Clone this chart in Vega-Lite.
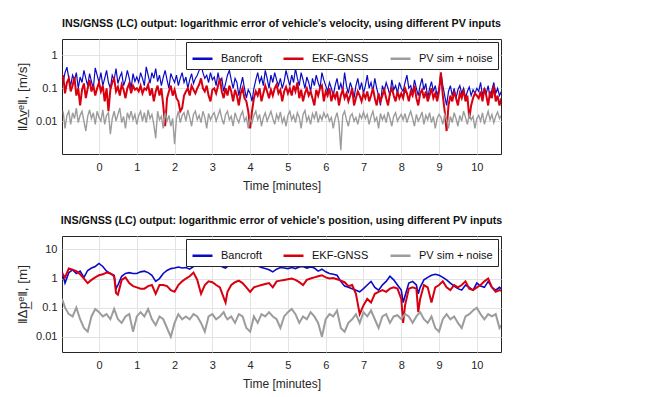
{
"$schema": "https://vega.github.io/schema/vega-lite/v6.json",
"padding": {"left": 15, "top": 17, "right": 5, "bottom": 2},
"spacing": 22,
"config": {
  "font": "Liberation Sans",
  "view": {"stroke": "#262626", "strokeWidth": 1},
  "axis": {"labelFontSize": 11, "titleFontSize": 12, "titleFontWeight": "normal", "labelColor": "#262626", "titleColor": "#262626", "domain": false, "ticks": false, "gridColor": "#e3e3e3", "gridWidth": 1, "labelPadding": 5},
  "legend": {"orient": "top-right", "direction": "horizontal", "fillColor": "white", "strokeColor": "#262626", "padding": 5, "labelFontSize": 11, "labelColor": "#111", "symbolType": "stroke", "symbolSize": 400, "symbolStrokeWidth": 2.5, "columnPadding": 16, "labelOffset": 7, "offset": 3, "labelLimit": 200, "title": null},
  "title": {"fontSize": 10.7, "fontWeight": "bold", "anchor": "middle", "offset": 9, "color": "#111"}
},
"resolve": {"scale": {"color": "independent"}, "legend": {"color": "independent"}},
"datasets": {
"vel": [
{"t":-0.95,"B":0.15,"E":0.25,"P":0.02},{"t":-0.9,"B":0.3,"E":0.07,"P":0.006},{"t":-0.85,"B":0.44,"E":0.15,"P":0.015},{"t":-0.8,"B":0.2,"E":0.2,"P":0.02},{"t":-0.75,"B":0.12,"E":0.08,"P":0.008},{"t":-0.7,"B":0.25,"E":0.12,"P":0.018},{"t":-0.65,"B":0.18,"E":0.22,"P":0.012},{"t":-0.6,"B":0.3,"E":0.06,"P":0.025},{"t":-0.55,"B":0.1,"E":0.1,"P":0.009},{"t":-0.5,"B":0.22,"E":0.03,"P":0.015},{"t":-0.45,"B":0.15,"E":0.09,"P":0.02},{"t":-0.4,"B":0.35,"E":0.14,"P":0.01},{"t":-0.35,"B":0.2,"E":0.05,"P":0.005},{"t":-0.3,"B":0.12,"E":0.1,"P":0.014},{"t":-0.25,"B":0.28,"E":0.18,"P":0.022},{"t":-0.2,"B":0.16,"E":0.08,"P":0.012},{"t":-0.15,"B":0.1,"E":0.12,"P":0.018},{"t":-0.1,"B":0.42,"E":0.06,"P":0.008},{"t":-0.05,"B":0.25,"E":0.1,"P":0.02},{"t":0.0,"B":0.15,"E":0.15,"P":0.013},
{"t":0.05,"B":0.3,"E":0.08,"P":0.01},{"t":0.1,"B":0.12,"E":0.12,"P":0.022},{"t":0.15,"B":0.2,"E":0.04,"P":0.008},{"t":0.2,"B":0.35,"E":0.1,"P":0.015},{"t":0.25,"B":0.15,"E":0.02,"P":0.018},{"t":0.3,"B":0.1,"E":0.09,"P":0.004},{"t":0.35,"B":0.25,"E":0.15,"P":0.012},{"t":0.4,"B":0.18,"E":0.2,"P":0.02},{"t":0.45,"B":0.4,"E":0.08,"P":0.01},{"t":0.5,"B":0.14,"E":0.11,"P":0.016},{"t":0.55,"B":0.22,"E":0.06,"P":0.025},{"t":0.6,"B":0.3,"E":0.13,"P":0.009},{"t":0.65,"B":0.12,"E":0.09,"P":0.014},{"t":0.7,"B":0.18,"E":0.05,"P":0.006},{"t":0.75,"B":0.35,"E":0.1,"P":0.018},{"t":0.8,"B":0.2,"E":0.14,"P":0.012},{"t":0.85,"B":0.1,"E":0.07,"P":0.02},{"t":0.9,"B":0.28,"E":0.12,"P":0.011},{"t":0.95,"B":0.16,"E":0.09,"P":0.016},{"t":1.0,"B":0.22,"E":0.1,"P":0.008},
{"t":1.05,"B":0.15,"E":0.08,"P":0.015},{"t":1.1,"B":0.3,"E":0.12,"P":0.02},{"t":1.15,"B":0.2,"E":0.07,"P":0.01},{"t":1.2,"B":0.12,"E":0.1,"P":0.018},{"t":1.25,"B":0.45,"E":0.09,"P":0.009},{"t":1.3,"B":0.25,"E":0.13,"P":0.022},{"t":1.35,"B":0.14,"E":0.06,"P":0.012},{"t":1.4,"B":0.3,"E":0.1,"P":0.016},{"t":1.45,"B":0.2,"E":0.04,"P":0.008},{"t":1.5,"B":0.4,"E":0.08,"P":0.003},{"t":1.55,"B":0.16,"E":0.12,"P":0.02},{"t":1.6,"B":0.25,"E":0.06,"P":0.011},{"t":1.65,"B":0.12,"E":0.1,"P":0.014},{"t":1.7,"B":0.22,"E":0.03,"P":0.006},{"t":1.75,"B":0.35,"E":0.007,"P":0.018},{"t":1.8,"B":0.18,"E":0.05,"P":0.01},{"t":1.85,"B":0.1,"E":0.08,"P":0.015},{"t":1.9,"B":0.28,"E":0.12,"P":0.007},{"t":1.95,"B":0.2,"E":0.06,"P":0.012},{"t":2.0,"B":0.15,"E":0.09,"P":0.002},
{"t":2.05,"B":0.25,"E":0.05,"P":0.012},{"t":2.1,"B":0.12,"E":0.04,"P":0.02},{"t":2.15,"B":0.2,"E":0.02,"P":0.009},{"t":2.2,"B":0.3,"E":0.025,"P":0.015},{"t":2.25,"B":0.15,"E":0.06,"P":0.018},{"t":2.3,"B":0.22,"E":0.08,"P":0.01},{"t":2.35,"B":0.1,"E":0.1,"P":0.022},{"t":2.4,"B":0.18,"E":0.06,"P":0.013},{"t":2.45,"B":0.28,"E":0.12,"P":0.007},{"t":2.5,"B":0.14,"E":0.09,"P":0.016},{"t":2.55,"B":0.2,"E":0.07,"P":0.02},{"t":2.6,"B":0.25,"E":0.1,"P":0.011},{"t":2.65,"B":0.35,"E":0.13,"P":0.015},{"t":2.7,"B":0.52,"E":0.2,"P":0.009},{"t":2.75,"B":0.3,"E":0.1,"P":0.02},{"t":2.8,"B":0.2,"E":0.08,"P":0.013},{"t":2.85,"B":0.25,"E":0.12,"P":0.006},{"t":2.9,"B":0.15,"E":0.06,"P":0.017},{"t":2.95,"B":0.3,"E":0.04,"P":0.011},{"t":3.0,"B":0.18,"E":0.09,"P":0.015},
{"t":3.05,"B":0.22,"E":0.1,"P":0.018},{"t":3.1,"B":0.12,"E":0.07,"P":0.01},{"t":3.15,"B":0.3,"E":0.12,"P":0.015},{"t":3.2,"B":0.15,"E":0.2,"P":0.022},{"t":3.25,"B":0.2,"E":0.08,"P":0.012},{"t":3.3,"B":0.08,"E":0.05,"P":0.008},{"t":3.35,"B":0.14,"E":0.1,"P":0.016},{"t":3.4,"B":0.25,"E":0.06,"P":0.02},{"t":3.45,"B":0.35,"E":0.12,"P":0.011},{"t":3.5,"B":0.18,"E":0.08,"P":0.014},{"t":3.55,"B":0.1,"E":0.04,"P":0.007},{"t":3.6,"B":0.2,"E":0.09,"P":0.018},{"t":3.65,"B":0.15,"E":0.06,"P":0.012},{"t":3.7,"B":0.06,"E":0.03,"P":0.009},{"t":3.75,"B":0.12,"E":0.07,"P":0.015},{"t":3.8,"B":0.22,"E":0.1,"P":0.02},{"t":3.85,"B":0.1,"E":0.05,"P":0.01},{"t":3.9,"B":0.05,"E":0.04,"P":0.013},{"t":3.95,"B":0.09,"E":0.02,"P":0.006},{"t":4.0,"B":0.07,"E":0.006,"P":0.012},
{"t":4.05,"B":0.04,"E":0.02,"P":0.009},{"t":4.1,"B":0.1,"E":0.05,"P":0.015},{"t":4.15,"B":0.18,"E":0.08,"P":0.02},{"t":4.2,"B":0.3,"E":0.06,"P":0.011},{"t":4.25,"B":0.15,"E":0.1,"P":0.016},{"t":4.3,"B":0.22,"E":0.04,"P":0.007},{"t":4.35,"B":0.12,"E":0.07,"P":0.013},{"t":4.4,"B":0.35,"E":0.12,"P":0.018},{"t":4.45,"B":0.2,"E":0.08,"P":0.01},{"t":4.5,"B":0.1,"E":0.05,"P":0.014},{"t":4.55,"B":0.25,"E":0.09,"P":0.02},{"t":4.6,"B":0.15,"E":0.06,"P":0.012},{"t":4.65,"B":0.3,"E":0.1,"P":0.008},{"t":4.7,"B":0.18,"E":0.13,"P":0.016},{"t":4.75,"B":0.12,"E":0.07,"P":0.011},{"t":4.8,"B":0.2,"E":0.09,"P":0.019},{"t":4.85,"B":0.1,"E":0.04,"P":0.009},{"t":4.9,"B":0.16,"E":0.08,"P":0.013},{"t":4.95,"B":0.35,"E":0.11,"P":0.007},{"t":5.0,"B":0.2,"E":0.07,"P":0.015},
{"t":5.05,"B":0.12,"E":0.1,"P":0.02},{"t":5.1,"B":0.25,"E":0.06,"P":0.011},{"t":5.15,"B":0.15,"E":0.12,"P":0.015},{"t":5.2,"B":0.4,"E":0.08,"P":0.009},{"t":5.25,"B":0.2,"E":0.15,"P":0.018},{"t":5.3,"B":0.12,"E":0.05,"P":0.013},{"t":5.35,"B":0.3,"E":0.09,"P":0.006},{"t":5.4,"B":0.18,"E":0.04,"P":0.016},{"t":5.45,"B":0.1,"E":0.07,"P":0.021},{"t":5.5,"B":0.22,"E":0.1,"P":0.01},{"t":5.55,"B":0.15,"E":0.06,"P":0.014},{"t":5.6,"B":0.08,"E":0.08,"P":0.008},{"t":5.65,"B":0.2,"E":0.05,"P":0.017},{"t":5.7,"B":0.12,"E":0.03,"P":0.012},{"t":5.75,"B":0.25,"E":0.09,"P":0.02},{"t":5.8,"B":0.15,"E":0.06,"P":0.009},{"t":5.85,"B":0.1,"E":0.1,"P":0.015},{"t":5.9,"B":0.3,"E":0.12,"P":0.011},{"t":5.95,"B":0.18,"E":0.04,"P":0.018},{"t":6.0,"B":0.12,"E":0.08,"P":0.013},
{"t":6.05,"B":0.08,"E":0.06,"P":0.016},{"t":6.1,"B":0.15,"E":0.1,"P":0.01},{"t":6.15,"B":0.1,"E":0.04,"P":0.013},{"t":6.2,"B":0.06,"E":0.07,"P":0.006},{"t":6.25,"B":0.12,"E":0.05,"P":0.012},{"t":6.3,"B":0.2,"E":0.08,"P":0.018},{"t":6.35,"B":0.09,"E":0.03,"P":0.009},{"t":6.4,"B":0.14,"E":0.06,"P":0.0013},{"t":6.45,"B":0.08,"E":0.09,"P":0.015},{"t":6.5,"B":0.3,"E":0.05,"P":0.02},{"t":6.55,"B":0.12,"E":0.07,"P":0.011},{"t":6.6,"B":0.07,"E":0.04,"P":0.007},{"t":6.65,"B":0.15,"E":0.06,"P":0.014},{"t":6.7,"B":0.1,"E":0.1,"P":0.017},{"t":6.75,"B":0.05,"E":0.03,"P":0.01},{"t":6.8,"B":0.12,"E":0.05,"P":0.013},{"t":6.85,"B":0.2,"E":0.08,"P":0.008},{"t":6.9,"B":0.09,"E":0.06,"P":0.016},{"t":6.95,"B":0.15,"E":0.04,"P":0.012},{"t":7.0,"B":0.07,"E":0.07,"P":0.019},
{"t":7.05,"B":0.12,"E":0.05,"P":0.012},{"t":7.1,"B":0.25,"E":0.08,"P":0.016},{"t":7.15,"B":0.1,"E":0.04,"P":0.008},{"t":7.2,"B":0.15,"E":0.06,"P":0.014},{"t":7.25,"B":0.08,"E":0.1,"P":0.02},{"t":7.3,"B":0.2,"E":0.05,"P":0.01},{"t":7.35,"B":0.1,"E":0.03,"P":0.013},{"t":7.4,"B":0.06,"E":0.07,"P":0.006},{"t":7.45,"B":0.03,"E":0.04,"P":0.017},{"t":7.5,"B":0.12,"E":0.06,"P":0.011},{"t":7.55,"B":0.08,"E":0.09,"P":0.015},{"t":7.6,"B":0.15,"E":0.05,"P":0.009},{"t":7.65,"B":0.1,"E":0.03,"P":0.019},{"t":7.7,"B":0.06,"E":0.07,"P":0.012},{"t":7.75,"B":0.18,"E":0.1,"P":0.007},{"t":7.8,"B":0.09,"E":0.06,"P":0.014},{"t":7.85,"B":0.12,"E":0.04,"P":0.018},{"t":7.9,"B":0.07,"E":0.08,"P":0.01},{"t":7.95,"B":0.15,"E":0.05,"P":0.013},{"t":8.0,"B":0.1,"E":0.07,"P":0.016},
{"t":8.05,"B":0.08,"E":0.05,"P":0.011},{"t":8.1,"B":0.15,"E":0.1,"P":0.017},{"t":8.15,"B":0.25,"E":0.07,"P":0.009},{"t":8.2,"B":0.1,"E":0.04,"P":0.014},{"t":8.25,"B":0.12,"E":0.08,"P":0.02},{"t":8.3,"B":0.07,"E":0.06,"P":0.012},{"t":8.35,"B":0.18,"E":0.12,"P":0.007},{"t":8.4,"B":0.1,"E":0.05,"P":0.016},{"t":8.45,"B":0.06,"E":0.03,"P":0.01},{"t":8.5,"B":0.12,"E":0.07,"P":0.013},{"t":8.55,"B":0.2,"E":0.09,"P":0.019},{"t":8.6,"B":0.09,"E":0.05,"P":0.008},{"t":8.65,"B":0.14,"E":0.08,"P":0.015},{"t":8.7,"B":0.05,"E":0.04,"P":0.011},{"t":8.75,"B":0.1,"E":0.06,"P":0.018},{"t":8.8,"B":0.16,"E":0.1,"P":0.009},{"t":8.85,"B":0.08,"E":0.05,"P":0.014},{"t":8.9,"B":0.12,"E":0.07,"P":0.006},{"t":8.95,"B":0.06,"E":0.04,"P":0.012},{"t":9.0,"B":0.1,"E":0.08,"P":0.016},
{"t":9.05,"B":0.3,"E":0.3,"P":0.013},{"t":9.1,"B":0.12,"E":0.06,"P":0.008},{"t":9.15,"B":0.06,"E":0.02,"P":0.016},{"t":9.2,"B":0.03,"E":0.005,"P":0.011},{"t":9.25,"B":0.08,"E":0.03,"P":0.006},{"t":9.3,"B":0.12,"E":0.06,"P":0.014},{"t":9.35,"B":0.06,"E":0.04,"P":0.009},{"t":9.4,"B":0.1,"E":0.08,"P":0.018},{"t":9.45,"B":0.05,"E":0.05,"P":0.012},{"t":9.5,"B":0.09,"E":0.03,"P":0.007},{"t":9.55,"B":0.12,"E":0.07,"P":0.015},{"t":9.6,"B":0.07,"E":0.05,"P":0.01},{"t":9.65,"B":0.1,"E":0.09,"P":0.02},{"t":9.7,"B":0.05,"E":0.04,"P":0.013},{"t":9.75,"B":0.08,"E":0.06,"P":0.008},{"t":9.8,"B":0.11,"E":0.012,"P":0.016},{"t":9.85,"B":0.06,"E":0.03,"P":0.011},{"t":9.9,"B":0.09,"E":0.05,"P":0.014},{"t":9.95,"B":0.07,"E":0.07,"P":0.006},{"t":10.0,"B":0.1,"E":0.06,"P":0.012},
{"t":10.05,"B":0.08,"E":0.05,"P":0.015},{"t":10.1,"B":0.15,"E":0.08,"P":0.01},{"t":10.15,"B":0.06,"E":0.04,"P":0.018},{"t":10.2,"B":0.1,"E":0.1,"P":0.008},{"t":10.25,"B":0.07,"E":0.06,"P":0.013},{"t":10.3,"B":0.12,"E":0.03,"P":0.02},{"t":10.35,"B":0.05,"E":0.08,"P":0.011},{"t":10.4,"B":0.09,"E":0.05,"P":0.016},{"t":10.45,"B":0.15,"E":0.12,"P":0.009},{"t":10.5,"B":0.07,"E":0.04,"P":0.014},{"t":10.55,"B":0.1,"E":0.06,"P":0.019},{"t":10.6,"B":0.06,"E":0.03,"P":0.012},{"t":10.65,"B":0.08,"E":0.05,"P":0.015}
],
"pos": [
{"t":-0.98,"B":1.8,"E":1.5,"P":0.2},{"t":-0.9,"B":0.7,"E":1.1,"P":0.1},{"t":-0.8,"B":1.6,"E":2.2,"P":0.06},{"t":-0.7,"B":2.0,"E":2.0,"P":0.05},{"t":-0.6,"B":1.5,"E":1.8,"P":0.1},{"t":-0.5,"B":1.8,"E":1.4,"P":0.04},{"t":-0.4,"B":1.1,"E":1.0,"P":0.02},{"t":-0.3,"B":1.9,"E":0.7,"P":0.015},{"t":-0.2,"B":2.3,"E":0.9,"P":0.05},{"t":-0.1,"B":2.6,"E":1.1,"P":0.09},
{"t":0.0,"B":3.3,"E":1.3,"P":0.07},{"t":0.1,"B":2.6,"E":1.4,"P":0.05},{"t":0.2,"B":1.8,"E":1.6,"P":0.06},{"t":0.3,"B":1.5,"E":1.5,"P":0.04},{"t":0.4,"B":1.3,"E":1.2,"P":0.09},{"t":0.45,"B":0.45,"E":0.32,"P":0.06},{"t":0.5,"B":0.6,"E":0.28,"P":0.04},{"t":0.6,"B":1.2,"E":0.9,"P":0.03},{"t":0.7,"B":1.5,"E":1.1,"P":0.05},{"t":0.8,"B":1.6,"E":0.7,"P":0.06},{"t":0.9,"B":1.5,"E":0.55,"P":0.015},
{"t":1.0,"B":1.5,"E":0.5,"P":0.05},{"t":1.1,"B":1.7,"E":0.45,"P":0.07},{"t":1.2,"B":1.8,"E":0.45,"P":0.05},{"t":1.3,"B":1.6,"E":0.55,"P":0.09},{"t":1.4,"B":1.3,"E":0.6,"P":0.04},{"t":1.5,"B":0.8,"E":0.3,"P":0.025},{"t":1.6,"B":1.0,"E":0.6,"P":0.05},{"t":1.7,"B":1.5,"E":0.6,"P":0.04},{"t":1.8,"B":1.9,"E":0.55,"P":0.02},{"t":1.9,"B":2.2,"E":0.4,"P":0.01},
{"t":2.0,"B":2.3,"E":0.35,"P":0.03},{"t":2.1,"B":2.5,"E":0.6,"P":0.06},{"t":2.2,"B":2.3,"E":0.8,"P":0.04},{"t":2.3,"B":2.4,"E":1.0,"P":0.05},{"t":2.4,"B":2.1,"E":1.2,"P":0.04},{"t":2.5,"B":2.6,"E":1.6,"P":0.06},{"t":2.6,"B":2.8,"E":0.9,"P":0.05},{"t":2.7,"B":2.9,"E":0.3,"P":0.03},{"t":2.8,"B":3.1,"E":0.6,"P":0.015},{"t":2.9,"B":3.3,"E":0.8,"P":0.05},
{"t":3.0,"B":3.5,"E":0.75,"P":0.06},{"t":3.1,"B":3.0,"E":0.6,"P":0.04},{"t":3.2,"B":2.8,"E":0.5,"P":0.05},{"t":3.3,"B":2.4,"E":0.22,"P":0.07},{"t":3.35,"B":2.3,"E":0.15,"P":0.05},{"t":3.4,"B":2.6,"E":0.35,"P":0.04},{"t":3.5,"B":3.0,"E":0.6,"P":0.05},{"t":3.6,"B":3.3,"E":0.75,"P":0.03},{"t":3.7,"B":2.9,"E":0.85,"P":0.06},{"t":3.8,"B":2.6,"E":0.7,"P":0.05},{"t":3.9,"B":2.8,"E":0.5,"P":0.02},
{"t":4.0,"B":2.9,"E":0.35,"P":0.015},{"t":4.1,"B":2.6,"E":0.5,"P":0.05},{"t":4.2,"B":2.7,"E":0.55,"P":0.03},{"t":4.3,"B":2.4,"E":0.6,"P":0.06},{"t":4.4,"B":2.2,"E":0.65,"P":0.05},{"t":4.5,"B":2.0,"E":0.7,"P":0.07},{"t":4.6,"B":1.7,"E":0.5,"P":0.05},{"t":4.7,"B":2.1,"E":0.8,"P":0.04},{"t":4.8,"B":2.4,"E":0.85,"P":0.02},{"t":4.9,"B":2.3,"E":0.9,"P":0.05},
{"t":5.0,"B":2.2,"E":0.95,"P":0.07},{"t":5.1,"B":2.4,"E":1.0,"P":0.09},{"t":5.2,"B":2.2,"E":0.9,"P":0.06},{"t":5.3,"B":2.5,"E":0.75,"P":0.03},{"t":5.4,"B":2.6,"E":0.6,"P":0.05},{"t":5.5,"B":2.3,"E":0.9,"P":0.04},{"t":5.6,"B":2.5,"E":1.0,"P":0.07},{"t":5.7,"B":2.3,"E":1.1,"P":0.05},{"t":5.8,"B":1.8,"E":1.2,"P":0.03},{"t":5.9,"B":2.1,"E":1.3,"P":0.01},
{"t":6.0,"B":1.7,"E":1.1,"P":0.04},{"t":6.1,"B":1.5,"E":1.0,"P":0.06},{"t":6.2,"B":1.4,"E":1.05,"P":0.05},{"t":6.3,"B":1.3,"E":0.95,"P":0.08},{"t":6.4,"B":0.8,"E":0.85,"P":0.02},{"t":6.5,"B":0.55,"E":0.75,"P":0.015},{"t":6.6,"B":0.5,"E":0.55,"P":0.03},{"t":6.7,"B":0.45,"E":0.6,"P":0.04},{"t":6.8,"B":0.4,"E":0.3,"P":0.06},{"t":6.9,"B":0.35,"E":0.06,"P":0.03},
{"t":7.0,"B":0.45,"E":0.12,"P":0.07},{"t":7.1,"B":0.6,"E":0.2,"P":0.05},{"t":7.2,"B":0.8,"E":0.15,"P":0.08},{"t":7.3,"B":0.5,"E":0.3,"P":0.04},{"t":7.4,"B":0.4,"E":0.35,"P":0.02},{"t":7.5,"B":0.6,"E":0.4,"P":0.05},{"t":7.6,"B":0.8,"E":0.35,"P":0.06},{"t":7.7,"B":1.2,"E":0.45,"P":0.03},{"t":7.8,"B":0.9,"E":0.5,"P":0.05},{"t":7.9,"B":0.6,"E":0.45,"P":0.055},
{"t":8.0,"B":0.4,"E":0.2,"P":0.04},{"t":8.05,"B":0.15,"E":0.03,"P":0.05},{"t":8.1,"B":0.25,"E":0.12,"P":0.06},{"t":8.2,"B":0.7,"E":0.45,"P":0.05},{"t":8.3,"B":0.8,"E":0.5,"P":0.03},{"t":8.4,"B":0.6,"E":0.45,"P":0.05},{"t":8.45,"B":0.3,"E":0.07,"P":0.06},{"t":8.5,"B":0.5,"E":0.2,"P":0.07},{"t":8.6,"B":0.9,"E":0.6,"P":0.04},{"t":8.7,"B":1.1,"E":0.5,"P":0.03},{"t":8.8,"B":1.3,"E":0.15,"P":0.05},{"t":8.9,"B":1.4,"E":0.5,"P":0.02},
{"t":9.0,"B":1.3,"E":0.6,"P":0.015},{"t":9.1,"B":1.1,"E":0.8,"P":0.04},{"t":9.2,"B":0.9,"E":0.5,"P":0.06},{"t":9.3,"B":0.7,"E":0.4,"P":0.04},{"t":9.4,"B":0.55,"E":0.6,"P":0.05},{"t":9.5,"B":0.45,"E":0.5,"P":0.03},{"t":9.6,"B":0.4,"E":0.6,"P":0.02},{"t":9.7,"B":0.6,"E":0.8,"P":0.05},{"t":9.8,"B":0.5,"E":0.45,"P":0.06},{"t":9.9,"B":0.4,"E":0.4,"P":0.08},
{"t":10.0,"B":0.7,"E":0.5,"P":0.1},{"t":10.1,"B":0.55,"E":0.6,"P":0.06},{"t":10.2,"B":0.5,"E":0.8,"P":0.04},{"t":10.3,"B":0.8,"E":1.0,"P":0.06},{"t":10.4,"B":0.5,"E":0.5,"P":0.05},{"t":10.5,"B":0.4,"E":0.35,"P":0.06},{"t":10.6,"B":0.5,"E":0.4,"P":0.02},{"t":10.65,"B":0.45,"E":0.38,"P":0.025}
]
},
"vconcat": [
{
  "width": 439, "height": 115,
  "title": {"text": "INS/GNSS (LC) output: logarithmic error of vehicle's velocity, using different PV inputs"},
  "data": {"name": "vel"},
  "encoding": {
    "x": {"field": "t", "type": "quantitative", "scale": {"domain": [-0.98, 10.64], "nice": false, "zero": false}, "axis": {"title": "Time [minutes]", "values": [0,1,2,3,4,5,6,7,8,9,10], "labelPadding": 7, "titlePadding": 8}}
  },
  "layer": [
    {"mark": {"type": "line", "strokeWidth": 1.2, "clip": true},
     "encoding": {
       "y": {"field": "B", "type": "quantitative", "scale": {"type": "log", "domain": [0.001, 3.16], "nice": false}, "axis": {"title": "‖Δv̲ᵉ‖, [m/s]", "titleFontSize": 13.5, "values": [0.01, 0.1, 1], "format": "~g", "titlePadding": 6}},
       "color": {"datum": "Bancroft", "type": "nominal", "scale": {"domain": ["Bancroft", "EKF-GNSS", "PV sim + noise"], "range": ["#0a0ac4", "#d80010", "#9c9c9c"]}, "legend": {}}
     }},
    {"mark": {"type": "line", "strokeWidth": 2, "clip": true},
     "encoding": {
       "y": {"field": "E", "type": "quantitative"},
       "color": {"datum": "EKF-GNSS", "type": "nominal"}
     }},
    {"mark": {"type": "line", "strokeWidth": 1.4, "clip": true},
     "encoding": {
       "y": {"field": "P", "type": "quantitative"},
       "color": {"datum": "PV sim + noise", "type": "nominal"}
     }}
  ]
},
{
  "width": 439, "height": 116,
  "title": {"text": "INS/GNSS (LC) output: logarithmic error of vehicle's position, using different PV inputs"},
  "data": {"name": "pos"},
  "encoding": {
    "x": {"field": "t", "type": "quantitative", "scale": {"domain": [-0.98, 10.64], "nice": false, "zero": false}, "axis": {"title": "Time [minutes]", "values": [0,1,2,3,4,5,6,7,8,9,10], "labelPadding": 7, "titlePadding": 8}}
  },
  "layer": [
    {"mark": {"type": "line", "strokeWidth": 1.6, "clip": true},
     "encoding": {
       "y": {"field": "B", "type": "quantitative", "scale": {"type": "log", "domain": [0.003, 29], "nice": false}, "axis": {"title": "‖Δp̲ᵉ‖, [m]", "titleFontSize": 13.5, "values": [0.01, 0.1, 1, 10], "format": "~g", "titlePadding": 6}},
       "color": {"datum": "Bancroft", "type": "nominal", "scale": {"domain": ["Bancroft", "EKF-GNSS", "PV sim + noise"], "range": ["#0a0ac4", "#d80010", "#9c9c9c"]}, "legend": {}}
     }},
    {"mark": {"type": "line", "strokeWidth": 2, "clip": true},
     "encoding": {
       "y": {"field": "E", "type": "quantitative"},
       "color": {"datum": "EKF-GNSS", "type": "nominal"}
     }},
    {"mark": {"type": "line", "strokeWidth": 2, "clip": true},
     "encoding": {
       "y": {"field": "P", "type": "quantitative"},
       "color": {"datum": "PV sim + noise", "type": "nominal"}
     }}
  ]
}
]
}
